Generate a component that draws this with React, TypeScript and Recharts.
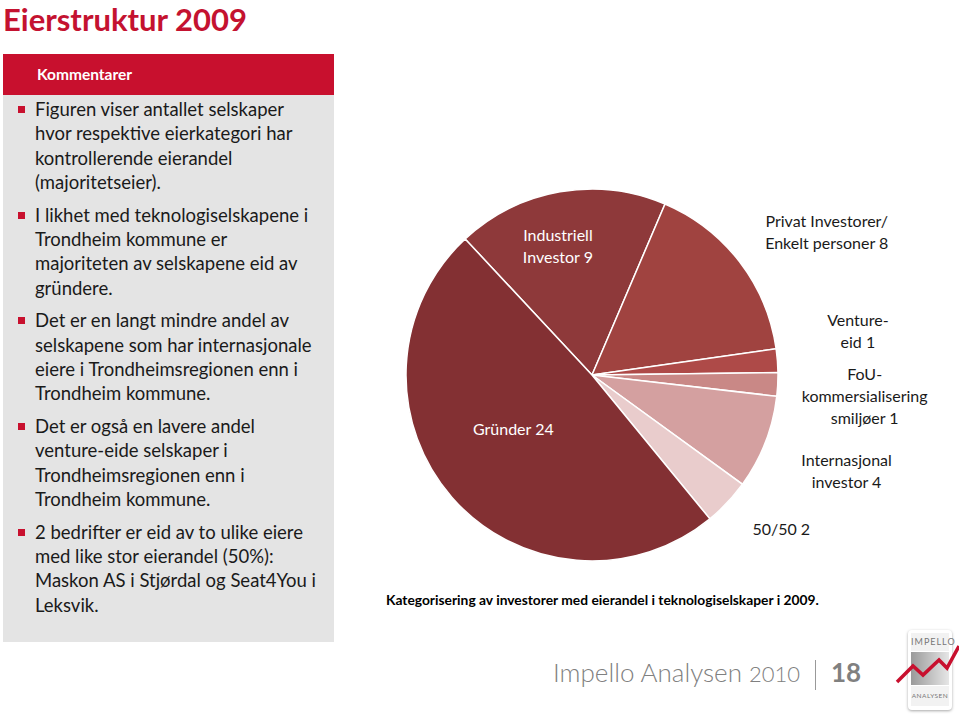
import React from 'react';
import { PieChart, Pie, Cell } from 'recharts';

// eierkategorier, antall selskaper (2009)
const categories = [
  'Industriell Investor',
  'Privat Investorer/Enkelt personer',
  'Venture-eid',
  'FoU-kommersialiseringsmiljøer',
  'Internasjonal investor',
  '50/50',
  'Gründer',
];
const companyCounts = [9, 8, 1, 1, 4, 2, 24];
const labelLines = [
  ['Industriell', 'Investor 9'],
  ['Privat Investorer/', 'Enkelt personer 8'],
  ['Venture-', 'eid 1'],
  ['FoU-', 'kommersialisering', 'smiljøer 1'],
  ['Internasjonal', 'investor 4'],
  ['50/50 2'],
  ['Gründer 24'],
];
const sliceColors = ['#8E393A', '#A04340', '#AE4A48', '#C98886', '#D4A0A0', '#E9CCCC', '#833033'];

const comments = [
  ['Figuren viser antallet selskaper', 'hvor respektive eierkategori har', 'kontrollerende eierandel', '(majoritetseier).'],
  ['I likhet med teknologiselskapene i', 'Trondheim kommune er', 'majoriteten av selskapene eid av', 'gründere.'],
  ['Det er en langt mindre andel av', 'selskapene som har internasjonale', 'eiere i Trondheimsregionen enn i', 'Trondheim kommune.'],
  ['Det er også en lavere andel', 'venture-eide selskaper i', 'Trondheimsregionen enn i', 'Trondheim kommune.'],
  ['2 bedrifter er eid av to ulike eiere', 'med like stor eierandel (50%):', 'Maskon AS i Stjørdal og Seat4You i', 'Leksvik.'],
];

const chartData = categories.map((name, i) => ({ name, value: companyCounts[i] }));

// label placement: angle shift from slice middle, distance as share of radius, inside?
const labelPlace = [
  { shift: 4.8, dist: 0.72, inside: true },
  { shift: -6, dist: 1.48, inside: false },
  { shift: 5.2, dist: 1.45, inside: false },
  { shift: -1.3, dist: 1.47, inside: false },
  { shift: 0.9, dist: 1.46, inside: false },
  { shift: 4.3, dist: 1.31, inside: false },
  { shift: -7.2, dist: 0.51, inside: true },
];

const RAD = Math.PI / 180;
const FONT = 'Lato, "Open Sans", sans-serif';

const renderLabel = (props: any) => {
  const { cx, cy, midAngle, outerRadius, index } = props;
  const p = labelPlace[index];
  const a = (midAngle + p.shift) * RAD;
  const r = outerRadius * p.dist;
  const x = cx + r * Math.cos(a);
  const y = cy - r * Math.sin(a);
  const lines = labelLines[index];
  const lh = 22;
  const y0 = y - ((lines.length - 1) * lh) / 2;
  return (
    <text
      key={`lbl-${index}`}
      x={x}
      y={y0}
      textAnchor="middle"
      dominantBaseline="central"
      fill={p.inside ? '#FFFFFF' : '#1a1a1a'}
      fontSize={16}
      fontFamily={FONT}
    >
      {lines.map((ln, j) => (
        <tspan key={j} x={x} y={y0 + j * lh}>
          {ln}
        </tspan>
      ))}
    </text>
  );
};

export default function App() {
  return (
    <div style={{ position: 'absolute', left: 0, top: 0, width: 959, height: 718, background: '#fff', fontFamily: FONT, overflow: 'hidden' }}>
      <div style={{ position: 'absolute', left: 3, top: 1, fontSize: 31, fontWeight: 700, color: '#C41230', lineHeight: '36px', whiteSpace: 'nowrap' }}>
        Eierstruktur 2009
      </div>

      {/* kommentarpanel */}
      <div style={{ position: 'absolute', left: 3, top: 54, width: 331, height: 41, background: '#C8102E' }}>
        <div style={{ position: 'absolute', left: 34, top: 11, color: '#fff', fontWeight: 700, fontSize: 15.5 }}>Kommentarer</div>
      </div>
      <div style={{ position: 'absolute', left: 3, top: 95, width: 331, height: 547, background: '#E4E4E4' }}>
        {comments.map((block, i) => (
          <div key={i} style={{ position: 'relative', paddingLeft: 32, marginTop: i === 0 ? 2 : 8 }}>
            <div style={{ position: 'absolute', left: 15, top: 9, width: 7, height: 7, background: '#C8102E' }} />
            {block.map((ln, j) => (
              <div key={j} style={{ fontSize: 18.5, lineHeight: '24.4px', color: '#1a1a1a', whiteSpace: 'nowrap' }}>{ln}</div>
            ))}
          </div>
        ))}
      </div>

      <div style={{ position: 'absolute', left: 380, top: 170 }}>
        <PieChart width={570} height={420}>
          <Pie
            data={chartData}
            dataKey="value"
            nameKey="name"
            cx={207}
            cy={200}
            outerRadius={186}
            startAngle={133}
            endAngle={-227}
            stroke="#FFFFFF"
            strokeWidth={1.5}
            label={renderLabel}
            labelLine={false}
            isAnimationActive={false}
          >
            {chartData.map((d, i) => (
              <Cell key={d.name} fill={sliceColors[i]} />
            ))}
          </Pie>
        </PieChart>
      </div>

      <div style={{ position: 'absolute', left: 386, top: 591, fontSize: 13.8, fontWeight: 700, color: '#000', whiteSpace: 'nowrap' }}>
        Kategorisering av investorer med eierandel i teknologiselskaper i 2009.
      </div>

      {/* bunntekst */}
      <div style={{ position: 'absolute', left: 553, top: 656, fontSize: 26, fontWeight: 300, color: '#808080', whiteSpace: 'nowrap' }}>
        Impello Analysen <span style={{ fontSize: 22 }}>2010</span>
      </div>
      <div style={{ position: 'absolute', left: 815, top: 660, width: 1, height: 30, background: '#999' }} />
      <div style={{ position: 'absolute', left: 831, top: 656, fontSize: 26, fontWeight: 700, color: '#808080' }}>18</div>
      <div style={{ position: 'absolute', left: 908, top: 630, width: 44, height: 80, borderRadius: 4, background: '#fff', boxShadow: '0 1px 3px rgba(0,0,0,0.35)' }}>
        <div style={{ position: 'absolute', left: 3, top: 3, width: 38, height: 18, background: '#f2f2f2', fontSize: 9, letterSpacing: 1, color: '#777', textAlign: 'center', lineHeight: '18px' }}>IMPELLO</div>
        <div style={{ position: 'absolute', left: 3, top: 22, width: 38, height: 33, background: 'linear-gradient(90deg,#9a9a9a,#e6e6e6)' }} />
        <div style={{ position: 'absolute', left: 3, top: 56, width: 38, height: 20, background: '#f2f2f2', fontSize: 6.5, letterSpacing: 0.5, color: '#777', textAlign: 'center', lineHeight: '20px' }}>ANALYSEN</div>
      </div>
      <svg style={{ position: 'absolute', left: 895, top: 640 }} width={64} height={50}>
        <polyline points="2,42 18,26 28,35 44,20 52,28 64,6" fill="none" stroke="#C8102E" strokeWidth={3.5} />
      </svg>
    </div>
  );
}
